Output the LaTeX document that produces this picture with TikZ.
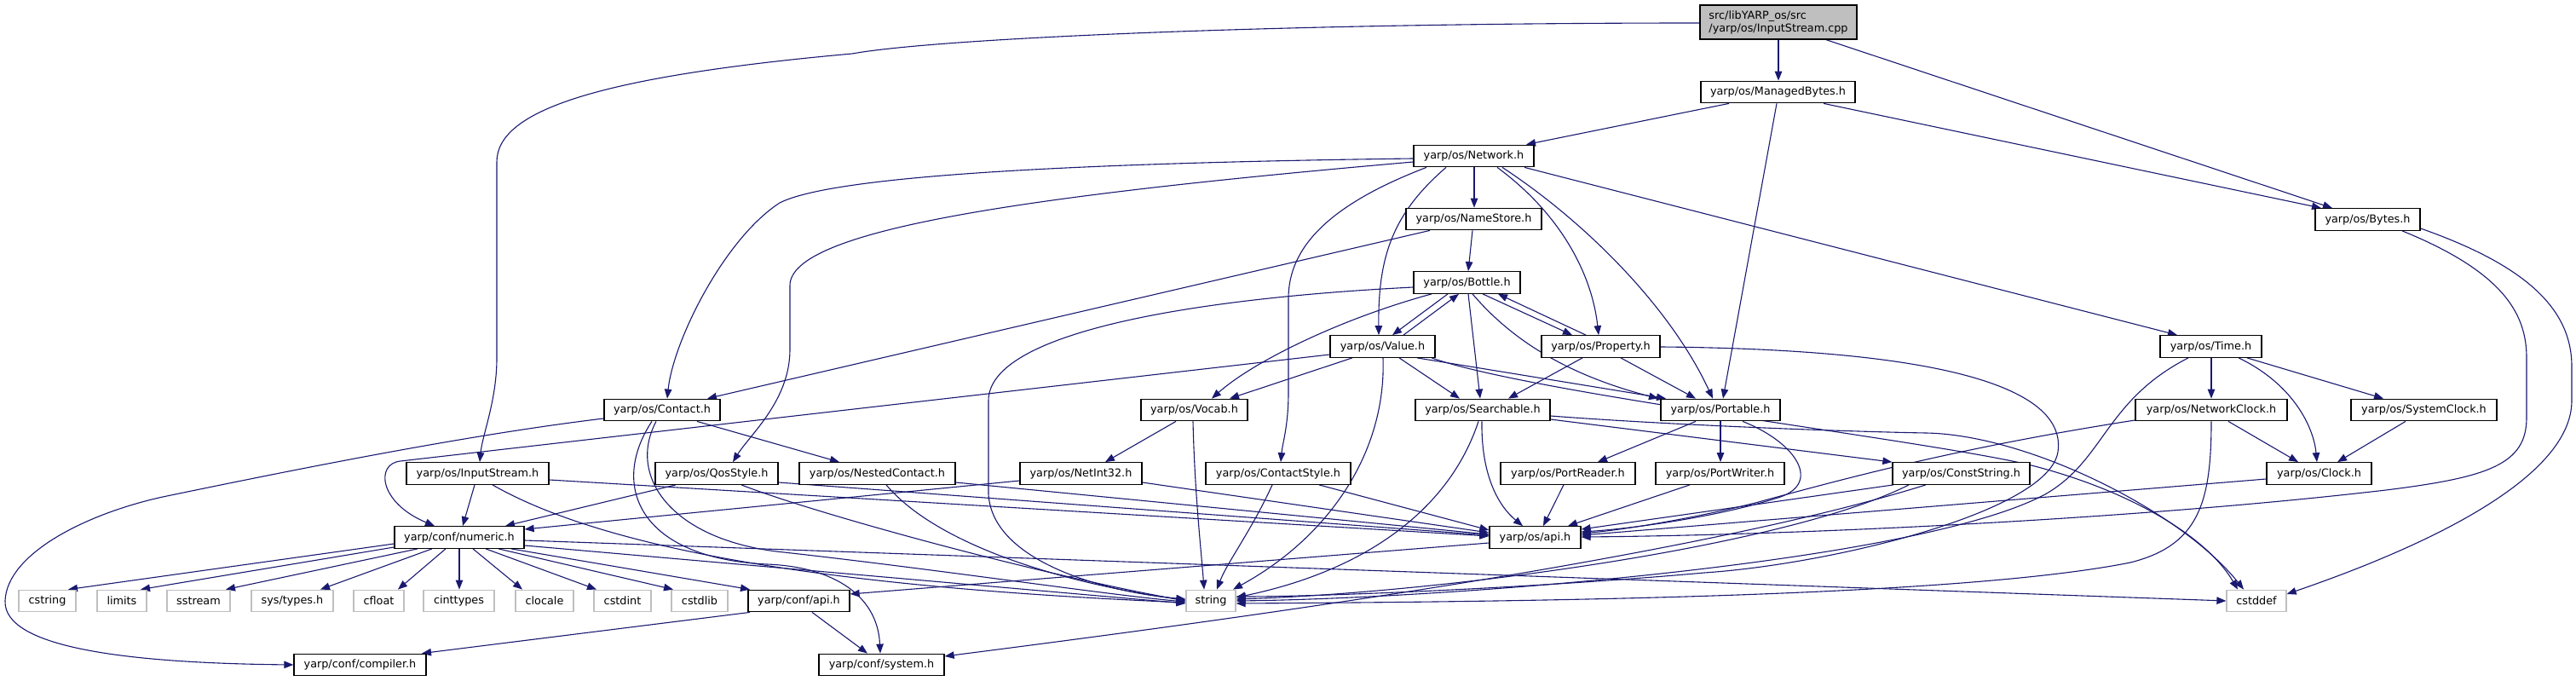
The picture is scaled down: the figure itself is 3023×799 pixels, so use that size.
\documentclass[tikz,border=0pt]{standalone}
\usepackage{fontspec}
\setmainfont{DejaVu Sans}
\usetikzlibrary{arrows.meta,backgrounds}
\definecolor{edgec}{HTML}{191970}
\definecolor{leafc}{HTML}{BFBFBF}
\newcommand\nodefont{\fontsize{12.8}{15}\selectfont}
\tikzset{
  hbox/.style={draw=black, line width=1.3pt, fill=white, inner sep=0pt, minimum height=25.5pt, font=\nodefont, text=black},
  leaf/.style={hbox, draw=leafc},
  root/.style={hbox, fill=leafc, minimum height=40pt, align=left},
  dep/.style={draw=edgec, line width=1.1pt, -{Triangle[length=11pt,width=8.5pt]}},
}
\begin{document}
\begin{tikzpicture}[x=1pt,y=-1pt]
\useasboundingbox (0,0) rectangle (3023,799);
% ---------- nodes ----------
\node[root, minimum width=184pt] (cpp) at (2087,26) {src/libYARP\_os/src\\/yarp/os/InputStream.cpp};
\node[hbox, minimum width=181pt] (mb) at (2086.5,108) {yarp/os/ManagedBytes.h};
\node[hbox, minimum width=123pt] (bytes) at (2778.5,257.5) {yarp/os/Bytes.h};
\node[hbox, minimum width=141pt] (net) at (1729.5,183) {yarp/os/Network.h};
\node[hbox, minimum width=159pt] (ns) at (1729.5,257) {yarp/os/NameStore.h};
\node[hbox, minimum width=125pt] (bottle) at (1721.5,331.5) {yarp/os/Bottle.h};
\node[hbox, minimum width=123pt] (value) at (1622.5,406.5) {yarp/os/Value.h};
\node[hbox, minimum width=139pt] (prop) at (1878.5,406.5) {yarp/os/Property.h};
\node[hbox, minimum width=119pt] (time) at (2594.5,406.5) {yarp/os/Time.h};
\node[hbox, minimum width=136pt] (contact) at (777,481) {yarp/os/Contact.h};
\node[hbox, minimum width=125pt] (vocab) at (1401.5,481) {yarp/os/Vocab.h};
\node[hbox, minimum width=158pt] (search) at (1740,481) {yarp/os/Searchable.h};
\node[hbox, minimum width=140pt] (portable) at (2019,481) {yarp/os/Portable.h};
\node[hbox, minimum width=178pt] (nclock) at (2595,481) {yarp/os/NetworkClock.h};
\node[hbox, minimum width=171pt] (sclock) at (2844.5,481) {yarp/os/SystemClock.h};
\node[hbox, minimum width=167pt] (istream) at (560.5,555.5) {yarp/os/InputStream.h};
\node[hbox, minimum width=144pt] (qos) at (841,555.5) {yarp/os/QosStyle.h};
\node[hbox, minimum width=183pt] (nested) at (1029.5,555.5) {yarp/os/NestedContact.h};
\node[hbox, minimum width=143pt] (netint) at (1268.5,555.5) {yarp/os/NetInt32.h};
\node[hbox, minimum width=170pt] (cstyle) at (1500,555.5) {yarp/os/ContactStyle.h};
\node[hbox, minimum width=158pt] (preader) at (1840,555.5) {yarp/os/PortReader.h};
\node[hbox, minimum width=151pt] (pwriter) at (2018.5,555.5) {yarp/os/PortWriter.h};
\node[hbox, minimum width=161pt] (cstr) at (2301.5,555.5) {yarp/os/ConstString.h};
\node[hbox, minimum width=123pt] (clock) at (2721.5,555.5) {yarp/os/Clock.h};
\node[hbox, minimum width=152pt] (numeric) at (539,630.5) {yarp/conf/numeric.h};
\node[hbox, minimum width=107pt] (osapi) at (1801.5,630.5) {yarp/os/api.h};
\node[leaf, minimum width=67pt] (cstring) at (55.5,705) {cstring};
\node[leaf, minimum width=58pt] (limits) at (143,705) {limits};
\node[leaf, minimum width=74pt] (sstream) at (233,705) {sstream};
\node[leaf, minimum width=96pt] (systypes) at (343,705) {sys/types.h};
\node[leaf, minimum width=59pt] (cfloat) at (444.5,705) {cfloat};
\node[leaf, minimum width=83pt] (cinttypes) at (538.5,705) {cinttypes};
\node[leaf, minimum width=68pt] (clocale) at (639,705) {clocale};
\node[leaf, minimum width=67pt] (cstdint) at (730.5,705) {cstdint};
\node[leaf, minimum width=66pt] (cstdlib) at (821,705) {cstdlib};
\node[hbox, minimum width=119pt] (confapi) at (937.5,705) {yarp/conf/api.h};
\node[leaf, minimum width=58pt] (string) at (1421,705) {string};
\node[leaf, minimum width=70pt] (cstddef) at (2648,705) {cstddef};
\node[hbox, minimum width=155pt] (compiler) at (422.5,780) {yarp/conf/compiler.h};
\node[hbox, minimum width=147pt] (system) at (1034.5,780) {yarp/conf/system.h};
% ---------- edges ----------
\begin{scope}[on background layer]
% InputStream.cpp
\draw[dep] (cpp.west |- 0,27) .. controls (1500,27) and (1100,45) .. (1000,63) .. controls (700,90) and (583,130) .. (583,190) -- (583,420) .. controls (583,470) and (566,510) .. (563,0 |- istream.north);
\draw[dep] (2087,0 |- cpp.south) -- (2087,0 |- mb.north);
\draw[dep] (2143,0 |- cpp.south) -- (2737,0 |- bytes.north);
% ManagedBytes
\draw[dep] (2029,0 |- mb.south) -- (1791,0 |- net.north);
\draw[dep] (2085,0 |- mb.south) -- (2022,0 |- portable.north);
\draw[dep] (2140,0 |- mb.south) -- (2724,0 |- bytes.north);
% Network
\draw[dep] (net.west |- 0,186) .. controls (1200,192) and (970,210) .. (915,238) .. controls (850,280) and (790,400) .. (783,0 |- contact.north);
\draw[dep] (net.west |- 0,190) .. controls (1200,230) and (927,270) .. (927,335) -- (927,410) .. controls (927,470) and (880,510) .. (860,0 |- qos.north);
\draw[dep] (1674,0 |- net.south) .. controls (1560,240) and (1512,290) .. (1512,350) -- (1512,460) .. controls (1512,500) and (1505,520) .. (1503,0 |- cstyle.north);
\draw[dep] (1697,0 |- net.south) .. controls (1635,250) and (1617,300) .. (1618,0 |- value.north);
\draw[dep] (1730,0 |- net.south) -- (1730,0 |- ns.north);
\draw[dep] (1757,0 |- net.south) .. controls (1830,250) and (1868,320) .. (1876,0 |- prop.north);
\draw[dep] (1763,0 |- net.south) .. controls (1860,260) and (1960,360) .. (2010,0 |- portable.north);
\draw[dep] (1789,0 |- net.south) -- (2555,0 |- time.north);
% NameStore
\draw[dep] (1728,0 |- ns.south) -- (1723,0 |- bottle.north);
\draw[dep] (1678,0 |- ns.south) -- (830,0 |- contact.north);
% Bottle
\draw[dep] (1699,0 |- bottle.south) -- (1634,0 |- value.north);
\draw[dep] (1740,0 |- bottle.south) -- (1845,0 |- prop.north);
\draw[dep] (1680,0 |- bottle.south) .. controls (1570,375) and (1470,425) .. (1422,0 |- vocab.north);
\draw[dep] (bottle.west |- 0,337) .. controls (1400,350) and (1160,390) .. (1160,470) -- (1160,580) .. controls (1165,660) and (1300,695) .. (string.west |- 0,703);
\draw[dep] (1723,0 |- bottle.south) -- (1737,0 |- search.north);
\draw[dep] (1728,0 |- bottle.south) .. controls (1775,400) and (1840,440) .. (1946,0 |- portable.north);
% Value
\draw[dep] (1647,0 |- value.north) -- (1712,0 |- bottle.south);
\draw[dep] (1587,0 |- value.south) -- (1443,0 |- vocab.north);
\draw[dep] (1642,0 |- value.south) -- (1713,0 |- search.north);
\draw[dep] (1663,0 |- value.south) -- (1955,0 |- portable.north);
\draw[dep] (1680,0 |- value.south) .. controls (1800,462) and (2250,515) .. (2380,545) .. controls (2500,575) and (2590,630) .. (2626,0 |- cstddef.north);
\draw[dep] (1623,0 |- value.south) .. controls (1627,530) and (1560,630) .. (1447,0 |- string.north);
\draw[dep] (value.west |- 0,416) -- (470,541) .. controls (440,544) and (445,590) .. (510,0 |- numeric.north);
% Property
\draw[dep] (1861,0 |- prop.north) -- (1758,0 |- bottle.south);
\draw[dep] (1857,0 |- prop.south) -- (1770,0 |- search.north);
\draw[dep] (1902,0 |- prop.south) -- (1990,0 |- portable.north);
\draw[dep] (prop.east |- 0,407) .. controls (2300,410) and (2425,460) .. (2415,530) .. controls (2405,600) and (2150,662) .. (2000,672) .. controls (1800,690) and (1550,700) .. (string.east |- 0,700);
% Searchable
\draw[dep] (search.east |- 0,492) -- (cstr.north west);
\draw[dep] (search.east |- 0,488) .. controls (1950,498) and (2150,506) .. (2260,508) .. controls (2380,510) and (2560,600) .. (2633,0 |- cstddef.north);
\draw[dep] (1739,0 |- search.south) .. controls (1738,560) and (1760,595) .. (1787,0 |- osapi.north);
\draw[dep] (1735,0 |- search.south) .. controls (1700,600) and (1600,670) .. (string.east |- 0,701);
% Portable
\draw[dep] (1990,0 |- portable.south) -- (1875,0 |- preader.north);
\draw[dep] (2019,0 |- portable.south) -- (2019,0 |- pwriter.north);
\draw[dep] (2045,0 |- portable.south) .. controls (2110,520) and (2140,570) .. (2083,585) .. controls (2020,605) and (1920,620) .. (osapi.east |- 0,624);
\draw[dep] (1835,0 |- preader.south) -- (1811,0 |- osapi.north);
\draw[dep] (1983,0 |- pwriter.south) -- (1840,0 |- osapi.north);
% ContactStyle, Vocab, NetInt32, NestedContact
\draw[dep] (1548,0 |- cstyle.south) -- (osapi.west |- 0,622);
\draw[dep] (1493,0 |- cstyle.south) .. controls (1470,620) and (1440,660) .. (1428,0 |- string.north);
\draw[dep] (1380,0 |- vocab.south) -- (1297,0 |- netint.north);
\draw[dep] (1400,0 |- vocab.south) .. controls (1402,580) and (1410,650) .. (1413,0 |- string.north);
\draw[dep] (netint.east |- 0,566) -- (osapi.west |- 0,625);
\draw[dep] (netint.west |- 0,564) -- (numeric.east |- 0,621);
\draw[dep] (nested.east |- 0,566) -- (osapi.west |- 0,627);
\draw[dep] (1040,0 |- nested.south) .. controls (1100,640) and (1250,685) .. (string.west |- 0,704);
% InputStream.h
\draw[dep] (557,0 |- istream.south) -- (543,0 |- numeric.north);
\draw[dep] (578,0 |- istream.south) .. controls (720,650) and (1000,690) .. (string.west |- 0,707);
\draw[dep] (istream.east |- 0,563) -- (osapi.west |- 0,629);
% QosStyle
\draw[dep] (793,0 |- qos.south) -- (593,0 |- numeric.north);
\draw[dep] (qos.east |- 0,566) -- (osapi.west |- 0,628);
\draw[dep] (870,0 |- qos.south) .. controls (950,600) and (1200,670) .. (string.west |- 0,705);
% Contact
\draw[dep] (contact.west |- 0,491) .. controls (550,510) and (350,550) .. (191,583) .. controls (100,603) and (8,650) .. (6,705) .. controls (4,760) and (150,778) .. (compiler.west |- 0,780);
\draw[dep] (818,0 |- contact.south) -- (985,0 |- nested.north);
\draw[dep] (770,0 |- contact.south) .. controls (735,560) and (790,635) .. (920,648) .. controls (1100,668) and (1300,698) .. (string.west |- 0,706);
\draw[dep] (765,0 |- contact.south) .. controls (715,570) and (750,655) .. (900,662) .. controls (980,665) and (1030,700) .. (1033,0 |- system.north);
% numeric
\draw[dep] (numeric.west |- 0,638) -- (80,0 |- cstring.north);
\draw[dep] (numeric.west |- 0,642) -- (165,0 |- limits.north);
\draw[dep] (490,0 |- numeric.south) -- (265,0 |- sstream.north);
\draw[dep] (507,0 |- numeric.south) -- (376,0 |- systypes.north);
\draw[dep] (523,0 |- numeric.south) -- (467,0 |- cfloat.north);
\draw[dep] (539,0 |- numeric.south) -- (539,0 |- cinttypes.north);
\draw[dep] (555,0 |- numeric.south) -- (613,0 |- clocale.north);
\draw[dep] (570,0 |- numeric.south) -- (700,0 |- cstdint.north);
\draw[dep] (585,0 |- numeric.south) -- (790,0 |- cstdlib.north);
\draw[dep] (600,0 |- numeric.south) -- (880,0 |- confapi.north);
\draw[dep] (numeric.east |- 0,634) -- (cstddef.west |- 0,705);
\draw[dep] (numeric.east |- 0,640) -- (string.west |- 0,708);
% conf/api, os/api
\draw[dep] (880,0 |- confapi.south) -- (495,0 |- compiler.north);
\draw[dep] (953,0 |- confapi.south) -- (1018,0 |- system.north);
\draw[dep] (osapi.west |- 0,637) -- (confapi.east |- 0,697);
% Bytes
\draw[dep] (2819,0 |- bytes.south) .. controls (2940,320) and (2965,370) .. (2965,420) -- (2965,490) .. controls (2965,545) and (2920,560) .. (2800,575) .. controls (2500,610) and (2100,628) .. (osapi.east |- 0,630);
\draw[dep] (bytes.east |- 0,268) .. controls (2960,310) and (3018,360) .. (3018,430) -- (3018,470) .. controls (3018,560) and (2850,640) .. (cstddef.east |- 0,697);
% Time
\draw[dep] (2595,0 |- time.south) -- (2595,0 |- nclock.north);
\draw[dep] (2627,0 |- time.south) .. controls (2690,450) and (2715,500) .. (2719,0 |- clock.north);
\draw[dep] (2637,0 |- time.south) -- (2797,0 |- sclock.north);
\draw[dep] (2568,0 |- time.south) .. controls (2470,470) and (2470,540) .. (2400,580) .. controls (2250,660) and (1700,702) .. (string.east |- 0,705);
% clocks
\draw[dep] (2615,0 |- nclock.south) -- (2697,0 |- clock.north);
\draw[dep] (nclock.west |- 0,493) .. controls (2300,525) and (2170,560) .. (2060,590) .. controls (1980,610) and (1900,622) .. (osapi.east |- 0,626);
\draw[dep] (2595,0 |- nclock.south) .. controls (2595,590) and (2580,640) .. (2500,660) .. controls (2300,700) and (1800,706) .. (string.east |- 0,708);
\draw[dep] (2823,0 |- sclock.south) -- (2743,0 |- clock.north);
\draw[dep] (clock.west |- 0,562) -- (osapi.east |- 0,628);
% ConstString
\draw[dep] (2222,0 |- cstr.south) -- (osapi.east |- 0,621);
\draw[dep] (2240,0 |- cstr.south) .. controls (2100,640) and (1700,695) .. (string.east |- 0,703);
\draw[dep] (2260,0 |- cstr.south) .. controls (2000,650) and (1500,720) .. (system.east |- 0,770);
\end{scope}
\end{tikzpicture}
\end{document}
